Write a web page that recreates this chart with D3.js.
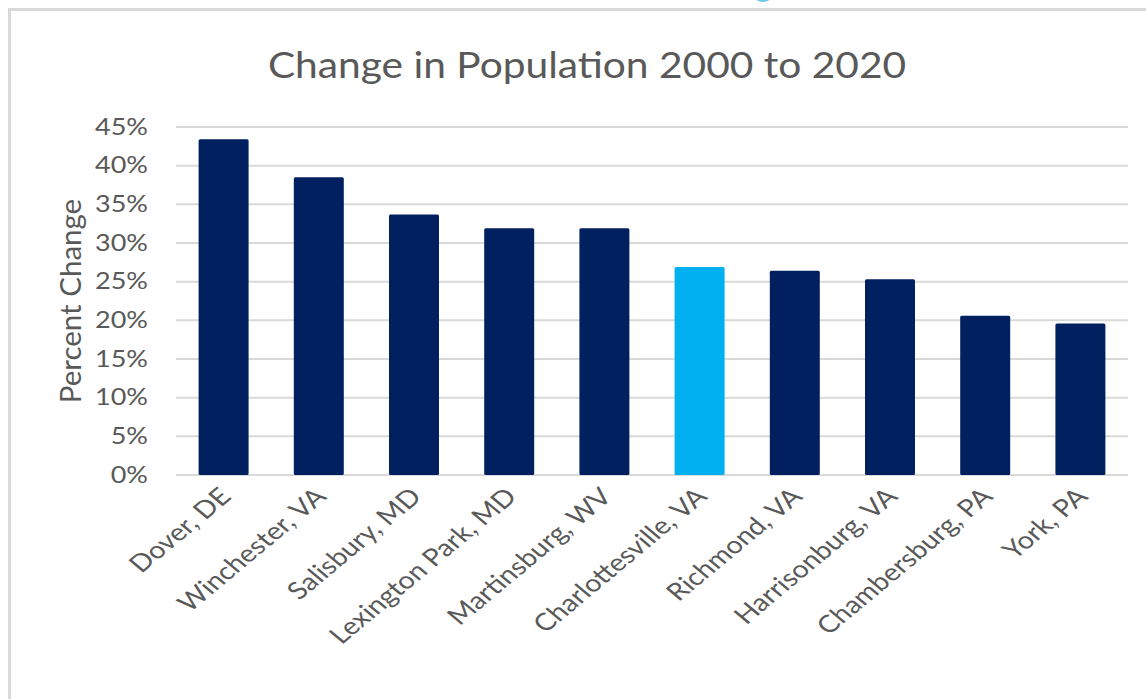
<!DOCTYPE html>
<html>
<head>
<meta charset="utf-8">
<script src="https://cdn.jsdelivr.net/npm/d3@7"></script>
<style>
  html, body { margin: 0; padding: 0; background: #ffffff; }
  svg { display: block; }
</style>
</head>
<body>
<svg id="chart" width="1146" height="699"></svg>
<script>
// Metro areas and their percent population change, 2000 to 2020
const cities = [
  "Dover, DE", "Winchester, VA", "Salisbury, MD", "Lexington Park, MD",
  "Martinsburg, WV", "Charlottesville, VA", "Richmond, VA",
  "Harrisonburg, VA", "Chambersburg, PA", "York, PA"
];
const pctChange = [43.4, 38.5, 33.7, 31.9, 31.9, 26.9, 26.4, 25.3, 20.6, 19.6];
const highlightCity = "Charlottesville, VA";
const yTicks = [0, 5, 10, 15, 20, 25, 30, 35, 40, 45];

const FONT = "Lato, 'Open Sans', sans-serif";
const TEXT = "#595959";
const WIDE = 1.2; // horizontal stretch applied to the labels

const svg = d3.select("#chart");

// frame around the chart
svg.append("rect")
  .attr("x", 9.5).attr("y", 9.5)
  .attr("width", 1160).attr("height", 720)
  .attr("fill", "#ffffff")
  .attr("stroke", "#d9d9d9").attr("stroke-width", 3);

// small bit of the slide heading peeking in above the frame
svg.append("ellipse")
  .attr("cx", 763).attr("cy", -3)
  .attr("rx", 8).attr("ry", 5)
  .attr("fill", "#6cc6f0");

const margin = { left: 176, right: 1128, top: 127, bottom: 475 };

const x = d3.scaleBand()
  .domain(cities)
  .range([margin.left, margin.right])
  .paddingInner(0.475)
  .paddingOuter(0.2375);

const y = d3.scaleLinear()
  .domain([0, 45])
  .range([margin.bottom, margin.top]);

// title
svg.append("text")
  .attr("transform", "translate(587,78) scale(1.1,1)")
  .attr("text-anchor", "middle")
  .attr("font-family", FONT)
  .attr("font-size", 37)
  .attr("fill", TEXT)
  .text("Change in Population 2000 to 2020");

// gridlines
svg.append("g")
  .selectAll("line")
  .data(yTicks)
  .join("line")
  .attr("x1", margin.left).attr("x2", margin.right)
  .attr("y1", d => y(d)).attr("y2", d => y(d))
  .attr("stroke", "#d9d9d9").attr("stroke-width", 2);

// y axis labels
const yAxis = d3.axisLeft(y)
  .tickValues(yTicks)
  .tickFormat(d => d + "%")
  .tickSize(0)
  .tickPadding(0);

svg.append("g")
  .attr("transform", `translate(${margin.left - 28},0)`)
  .call(yAxis)
  .call(g => g.select(".domain").remove())
  .call(g => g.selectAll("text")
    .attr("font-family", FONT)
    .attr("font-size", 22.5)
    .attr("fill", TEXT)
    .attr("transform", `scale(${WIDE},1)`));

// y axis title
svg.append("text")
  .attr("transform", `translate(81,${(margin.top + margin.bottom) / 2}) rotate(-90)`)
  .attr("text-anchor", "middle")
  .attr("font-family", FONT)
  .attr("font-size", 29.5)
  .attr("fill", TEXT)
  .text("Percent Change");

// bars
svg.append("g")
  .selectAll("rect")
  .data(cities.map((c, i) => ({ city: c, value: pctChange[i] })))
  .join("rect")
  .attr("x", d => x(d.city))
  .attr("y", d => y(d.value))
  .attr("width", x.bandwidth())
  .attr("height", d => y(0) - y(d.value))
  .attr("rx", 1.5)
  .attr("fill", d => d.city === highlightCity ? "#00b0f0" : "#002060");

// x axis labels, rotated
const xAxis = d3.axisBottom(x).tickSize(0).tickPadding(0);
svg.append("g")
  .attr("transform", `translate(0,${margin.bottom})`)
  .call(xAxis)
  .call(g => g.select(".domain").remove())
  .call(g => g.selectAll("text")
    .attr("font-family", FONT)
    .attr("font-size", 24)
    .attr("fill", TEXT)
    .attr("text-anchor", "end")
    .attr("dy", 0)
    .attr("transform", `translate(9,23) scale(${WIDE},1) rotate(-45)`));
</script>
</body>
</html>
